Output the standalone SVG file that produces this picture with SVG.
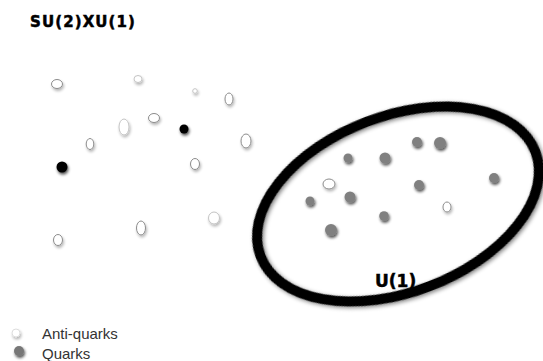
<svg xmlns="http://www.w3.org/2000/svg" width="543" height="361" viewBox="0 0 543 361">
<defs>
<filter id="sh" x="-100%" y="-100%" width="300%" height="300%">
<feGaussianBlur in="SourceAlpha" stdDeviation="1.6"/>
<feOffset dx="1" dy="2"/>
<feComponentTransfer><feFuncA type="linear" slope="0.3"/></feComponentTransfer>
<feMerge><feMergeNode/><feMergeNode in="SourceGraphic"/></feMerge>
</filter>
<filter id="shd" x="-100%" y="-100%" width="300%" height="300%">
<feGaussianBlur in="SourceAlpha" stdDeviation="1.8"/>
<feOffset dx="1" dy="2"/>
<feComponentTransfer><feFuncA type="linear" slope="0.7"/></feComponentTransfer>
<feMerge><feMergeNode/><feMergeNode in="SourceGraphic"/></feMerge>
</filter>
<filter id="esh" x="-10%" y="-10%" width="120%" height="120%">
<feGaussianBlur in="SourceAlpha" stdDeviation="2.2"/>
<feOffset dx="1" dy="2"/>
<feComponentTransfer><feFuncA type="linear" slope="0.5"/></feComponentTransfer>
<feMerge><feMergeNode/><feMergeNode in="SourceGraphic"/></feMerge>
</filter>
</defs>
<style>
.aq{fill:#fff;stroke:#8c8c8c;stroke-width:1;filter:url(#sh)}
.aql{fill:#fff;stroke:#c4c4c4;stroke-width:1;filter:url(#sh)}
.bk{fill:#000;filter:url(#shd)}
.q{fill:#808080;filter:url(#shd)}
.t{font-family:"DejaVu Sans",sans-serif;font-weight:bold;fill:#000;stroke:#000;stroke-width:0.5}
.lg{font-family:"Liberation Sans",Arial,sans-serif;font-size:15px;fill:#333}
</style>
<rect width="543" height="361" fill="#fff"/>
<text class="t" x="30" y="27" font-size="15" letter-spacing="1.1">SU(2)XU(1)</text>
<ellipse cx="398" cy="204" rx="147" ry="88" transform="rotate(-20.8 398 204)" fill="none" stroke="#000" stroke-width="10" filter="url(#esh)"/>
<text class="t" x="375" y="287" font-size="17">U(1)</text>
<g id="outside">
<ellipse class="aq" cx="57" cy="84" rx="5.5" ry="4.5"/>
<ellipse class="aql" cx="138" cy="79" rx="4" ry="3.5"/>
<circle class="aql" cx="195" cy="91" r="2.3"/>
<ellipse class="aq" cx="229" cy="99" rx="4" ry="6"/>
<ellipse class="aql" cx="124" cy="127" rx="5" ry="8"/>
<ellipse class="aq" cx="154" cy="118" rx="5.5" ry="4.5"/>
<circle class="bk" cx="184" cy="129" r="4.5"/>
<ellipse class="aq" cx="246" cy="141" rx="5" ry="7"/>
<ellipse class="aq" cx="90" cy="144" rx="3.8" ry="5.5"/>
<circle class="bk" cx="62" cy="167" r="5.5"/>
<ellipse class="aq" cx="195" cy="164" rx="4.5" ry="5.5"/>
<ellipse class="aql" cx="214" cy="218" rx="5.5" ry="6"/>
<ellipse class="aq" cx="141" cy="228" rx="4.5" ry="7"/>
<ellipse class="aq" cx="58" cy="240" rx="4.5" ry="5.5"/>
</g>
<g id="inside">
<circle class="q" cx="417" cy="142" r="5"/>
<circle class="q" cx="440" cy="143" r="6"/>
<circle class="q" cx="348" cy="158" r="4.5"/>
<circle class="q" cx="385" cy="158" r="5.5"/>
<ellipse class="aq" cx="329" cy="184" rx="6" ry="5" stroke="#555"/>
<circle class="q" cx="419" cy="185" r="5"/>
<circle class="q" cx="494" cy="178" r="5"/>
<circle class="q" cx="310" cy="201" r="4.5"/>
<circle class="q" cx="350" cy="197" r="5.5"/>
<ellipse class="aq" cx="447" cy="207" rx="4" ry="5"/>
<circle class="q" cx="384" cy="216" r="4.8"/>
<circle class="q" cx="331" cy="230" r="6"/>
</g>
<g id="legend">
<circle cx="16" cy="333" r="4" fill="#fff" stroke="#ddd" stroke-width="1" filter="url(#sh)"/>
<text class="lg" x="42" y="338.5">Anti-quarks</text>
<circle cx="19" cy="351" r="5" fill="#777" filter="url(#shd)"/>
<text class="lg" x="42" y="358.5">Quarks</text>
</g>
</svg>
